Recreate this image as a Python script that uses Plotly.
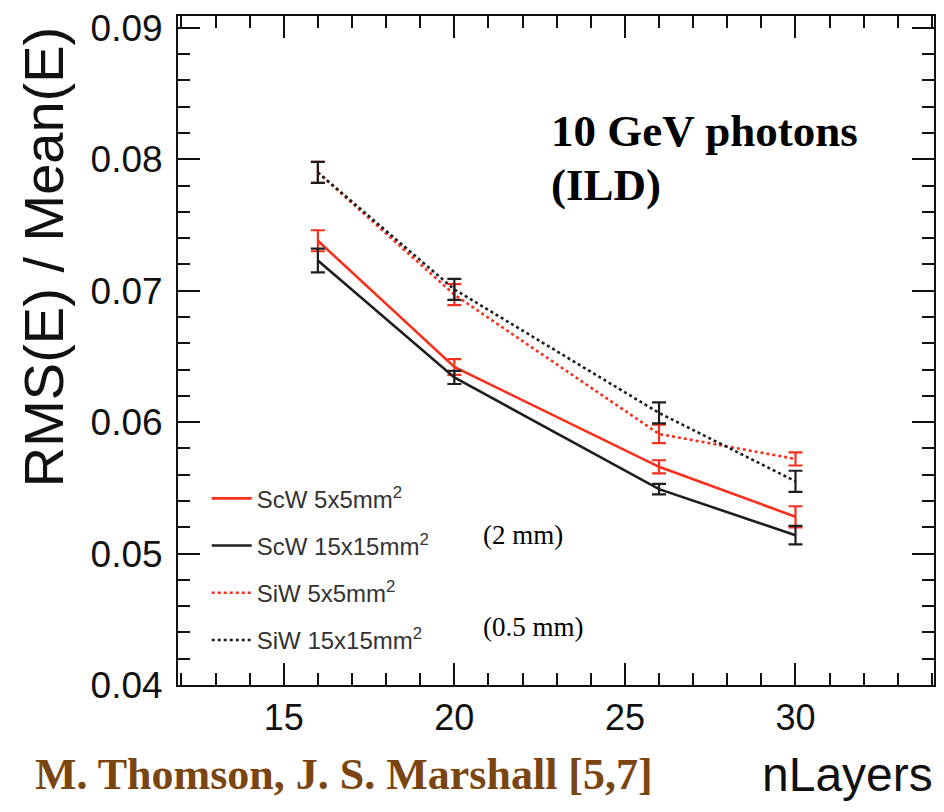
import plotly.graph_objects as go

# Number of sampling layers
n_layers = [16, 20, 26, 30]

# Energy resolution RMS(E)/Mean(E) for each calorimeter option
scw_5x5 = [0.0738, 0.0642, 0.0566, 0.0528]
scw_5x5_err = [0.0008, 0.0006, 0.0005, 0.0008]

scw_15x15 = [0.0723, 0.0634, 0.0549, 0.0514]
scw_15x15_err = [0.0009, 0.0005, 0.0004, 0.0007]

siw_5x5 = [0.0790, 0.0697, 0.0591, 0.0572]
siw_5x5_err = [0.0008, 0.0008, 0.0007, 0.0005]

siw_15x15 = [0.0790, 0.0701, 0.0607, 0.0555]
siw_15x15_err = [0.0008, 0.0008, 0.0008, 0.0008]

series_names = ["ScW 5x5mm<sup>2</sup>", "ScW 15x15mm<sup>2</sup>",
                "SiW 5x5mm<sup>2</sup>", "SiW 15x15mm<sup>2</sup>"]

RED = "#f5301c"
BLACK = "#1e1e1e"

fig = go.Figure()

styles = [
    (scw_5x5, scw_5x5_err, RED, "solid"),
    (scw_15x15, scw_15x15_err, BLACK, "solid"),
    (siw_5x5, siw_5x5_err, RED, "dot"),
    (siw_15x15, siw_15x15_err, BLACK, "dot"),
]

for i, (vals, errs, col, dash) in enumerate(styles):
    fig.add_trace(go.Scatter(
        x=n_layers, y=vals,
        mode="lines",
        name=series_names[i],
        legendgroup=f"g{i}",
        line=dict(color=col, width=2.6, dash=dash),
        error_y=dict(type="data", array=errs, visible=True,
                     color=col, thickness=2.2, width=7),
    ))

sans = "Liberation Sans, Arial, sans-serif"
serif = "Liberation Serif, Times New Roman, serif"

fig.update_layout(
    width=944, height=812,
    margin=dict(l=178, r=8, t=13, b=127),
    paper_bgcolor="white", plot_bgcolor="white",
    showlegend=True,
    legend=dict(
        x=0.038, y=0.312, xanchor="left", yanchor="top",
        bgcolor="rgba(0,0,0,0)",
        font=dict(family=sans, size=24, color="#333"),
        tracegroupgap=13,
        itemwidth=40,
    ),
    xaxis=dict(
        range=[11.9, 34.06],
        tickmode="linear", tick0=0, dtick=5,
        ticks="inside", ticklen=22, tickwidth=2, tickcolor="#111",
        minor=dict(dtick=1, tick0=0, ticks="inside", ticklen=12,
                   tickwidth=2, tickcolor="#111"),
        showline=True, linecolor="#111", linewidth=2, mirror="allticks",
        showgrid=False, zeroline=False,
        tickfont=dict(family=sans, size=36, color="#111"),
    ),
    yaxis=dict(
        range=[0.04, 0.0909],
        tickmode="linear", tick0=0.04, dtick=0.01, tickformat=".2f",
        ticks="inside", ticklen=22, tickwidth=2, tickcolor="#111",
        minor=dict(dtick=0.002, tick0=0.04, ticks="inside", ticklen=12,
                   tickwidth=2, tickcolor="#111"),
        showline=True, linecolor="#111", linewidth=2, mirror="allticks",
        showgrid=False, zeroline=False,
        tickfont=dict(family=sans, size=37, color="#111"),
        ticklabelstandoff=6,
    ),
)

annotations = [
    dict(text="<b>10 GeV photons</b>", x=(550 - 178) / 758, y=(685 - 129) / 672,
         xanchor="left", yanchor="middle", font=dict(family=serif, size=45, color="black")),
    dict(text="<b>(ILD)</b>", x=(550 - 178) / 758, y=(685 - 183) / 672,
         xanchor="left", yanchor="middle", font=dict(family=serif, size=45, color="black")),
    dict(text="(2 mm)", x=(482 - 178) / 758, y=(685 - 534) / 672,
         xanchor="left", yanchor="middle", font=dict(family=serif, size=27, color="black")),
    dict(text="(0.5 mm)", x=(482 - 178) / 758, y=(685 - 627) / 672,
         xanchor="left", yanchor="middle", font=dict(family=serif, size=27, color="black")),
    dict(text="<b>M. Thomson, J. S. Marshall [5,7]</b>", x=(33 - 178) / 758, y=(685 - 775) / 672,
         xanchor="left", yanchor="middle",
         font=dict(family=serif, size=44, color="#7b4511")),
    dict(text="nLayers", x=(937 - 178) / 758, y=(685 - 775) / 672,
         xanchor="right", yanchor="middle",
         font=dict(family=sans, size=48, color="#111")),
    dict(text="RMS(E) / Mean(E)", x=(44 - 178) / 758, y=(685 - 255) / 672,
         xanchor="center", yanchor="middle", textangle=-90,
         font=dict(family=sans, size=56, color="#111")),
]
for a in annotations:
    a.update(xref="paper", yref="paper", showarrow=False)
fig.update_layout(annotations=annotations)

fig.write_html("out.html")
